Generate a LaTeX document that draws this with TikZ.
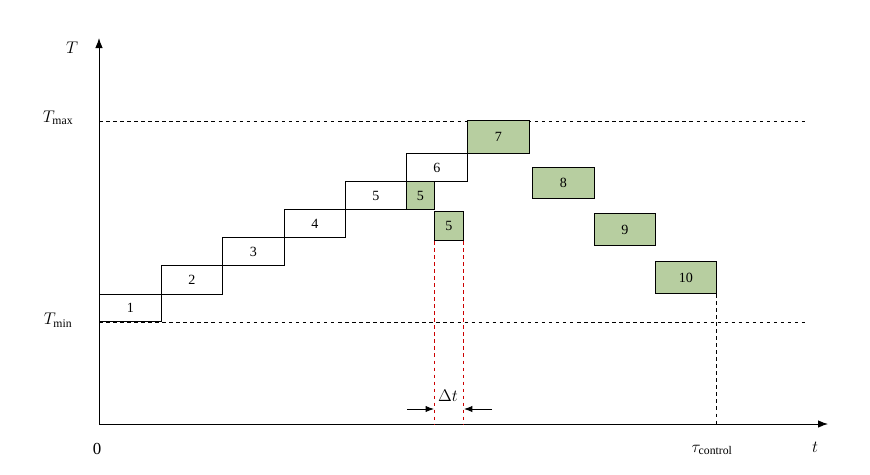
\documentclass[tikz,border=0pt]{standalone}
\usepackage{fontspec}
\setmainfont{Liberation Serif}
\usetikzlibrary{arrows.meta}
\definecolor{boxgreen}{RGB}{183,206,160}
\tikzset{
  box/.style={draw,thick,anchor=south west,inner sep=0pt,font=\large},
  gbox/.style={box,fill=boxgreen},
  level/.style={dashed,thick},
  reddash/.style={dashed,thick,red!80!black}
}
\begin{document}
\begin{tikzpicture}[x=0.03cm,y=-0.03cm]
    \useasboundingbox (0,0) rectangle (870,474);

    % Axes
    \coordinate (O) at (99,424);
    \draw[thick,-{Latex[length=3mm]}] (O) -- (828,424) coordinate (xend);
    \draw[thick,-{Latex[length=3mm]}] (O) -- (99,38) coordinate (yend);
    \node[font=\Large] (tlab) at (815,447) {$t$};
    \node[font=\Large] (Tlab) at (72,48) {$T$};
    \node[font=\Large] (zero) at (97,449) {0};

    % Temperature limits
    \node[font=\Large] (Tmax) at (58,118) {$T_{\max}$};
    \node[font=\Large] (Tmin) at (58,320) {$T_{\min}$};
    \draw[level] (99,121) -- (805,121);
    \draw[level] (99,322) -- (805,322);

    % Heating steps
    \node[box,minimum width=1.86cm,minimum height=0.81cm] (b1) at (99,322) {1};
    \node[box,minimum width=1.83cm,minimum height=0.87cm] (b2) at (161,295) {2};
    \node[box,minimum width=1.86cm,minimum height=0.84cm] (b3) at (222,266) {3};
    \node[box,minimum width=1.83cm,minimum height=0.84cm] (b4) at (284,238) {4};
    \node[box,minimum width=1.83cm,minimum height=0.84cm] (b5) at (345,210) {5};
    \node[gbox,minimum width=0.84cm,minimum height=0.84cm] (g5) at (406,210) {5};
    \node[box,minimum width=1.83cm,minimum height=0.84cm] (b6) at (406,182) {6};

    % Cooling steps
    \node[gbox,minimum width=1.86cm,minimum height=0.99cm] (b7) at (467,154) {7};
    \node[gbox,minimum width=1.86cm,minimum height=0.93cm] (b8) at (532,199) {8};
    \node[gbox,minimum width=1.83cm,minimum height=0.96cm] (b9) at (594,246) {9};
    \node[gbox,minimum width=1.83cm,minimum height=0.96cm] (b10) at (655,294) {10};
    \node[gbox,minimum width=0.87cm,minimum height=0.87cm] (s5) at (434,241) {5};

    % Delta t
    \draw[reddash] (s5.south west) -- (s5.south west |- O);
    \draw[reddash] (s5.south east) -- (s5.south east |- O);
    \coordinate (dl) at (407,409);
    \coordinate (dr) at (492,409);
    \draw[thick,-{Latex[length=2.5mm]}] (dl) -- (dl -| s5.south west);
    \draw[thick,-{Latex[length=2.5mm]}] (dr) -- (dr -| s5.south east);
    \node[font=\Large] (dt) at (448,396) {$\Delta t$};

    % End of control
    \draw[level] (b10.south east) -- (b10.south east |- O);
    \node[font=\Large] (tau) at (712,450) {$\tau_{\mathrm{control}}$};
\end{tikzpicture}
\end{document}
